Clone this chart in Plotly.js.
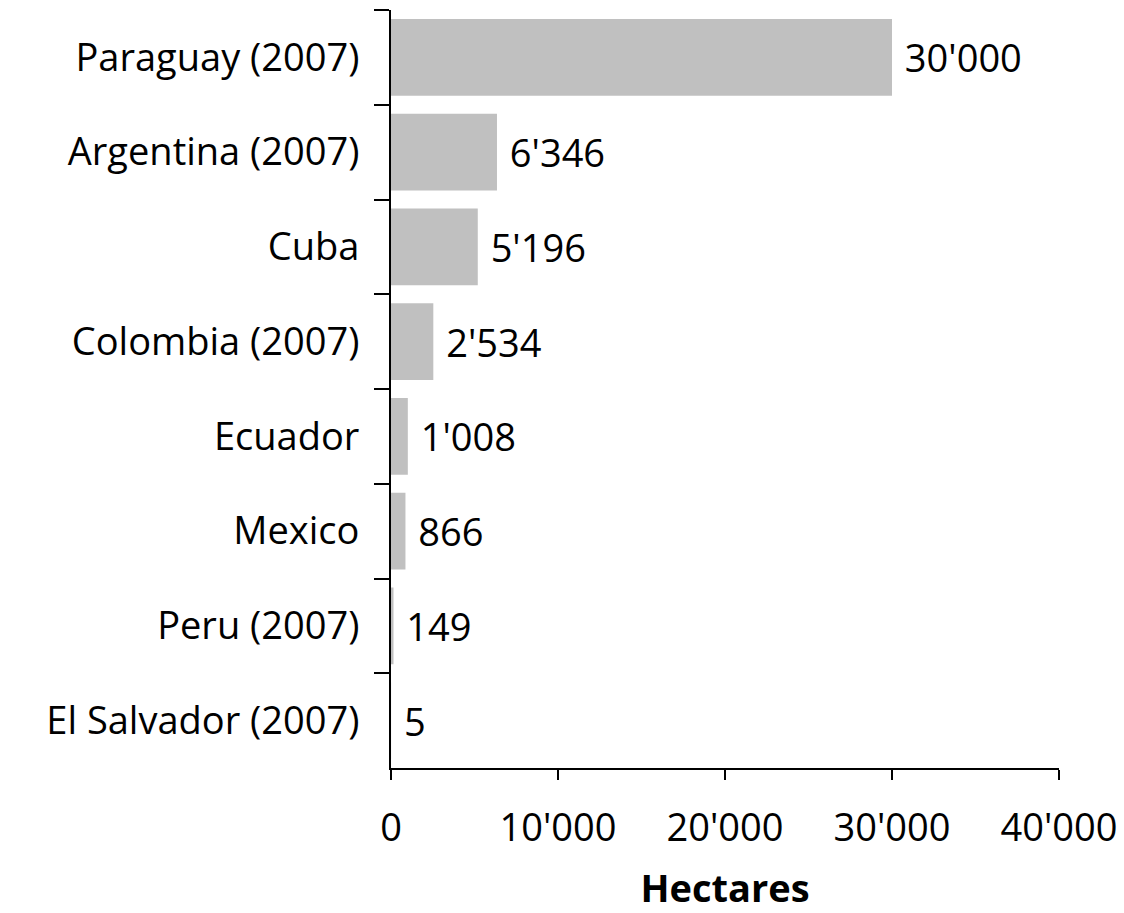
<!DOCTYPE html>
<html>
<head>
<meta charset="utf-8">
<script src="https://cdn.plot.ly/plotly-3.0.1.min.js"></script>
<style>html,body{margin:0;padding:0;background:#fff;}#chart{width:1124px;height:913px;}</style>
</head>
<body>
<div id="chart"></div>
<script>
const countries = ["Paraguay (2007)", "Argentina (2007)", "Cuba", "Colombia (2007)", "Ecuador", "Mexico", "Peru (2007)", "El Salvador (2007)"];
const hectares = [30000, 6346, 5196, 2534, 1008, 866, 149, 5];
const xTicks = [0, 10000, 20000, 30000, 40000];

const FONT = "Open Sans, Noto Sans, sans-serif";
const FS = 38;

const trace = {
  type: "bar",
  orientation: "h",
  y: countries,
  x: hectares,
  marker: { color: "#c0c0c0" },
  texttemplate: " %{x:,d}",
  textposition: "outside",
  cliponaxis: false,
  textfont: { family: FONT, size: FS, color: "#000" },
  hoverinfo: "none"
};

const layout = {
  width: 1124,
  height: 913,
  separators: ".'",
  margin: { l: 391, r: 65, t: 10, b: 145 },
  paper_bgcolor: "#fff",
  plot_bgcolor: "#fff",
  showlegend: false,
  bargap: 0.19,
  font: { family: FONT, size: FS, color: "#000" },
  xaxis: {
    range: [0, 40000],
    tickvals: xTicks,
    tickformat: ",d",
    showgrid: false,
    zeroline: false,
    showline: true,
    linecolor: "#000",
    linewidth: 2,
    ticks: "outside",
    ticklen: 10,
    tickwidth: 2,
    tickcolor: "#000",
    ticklabelstandoff: 15,
    tickfont: { family: FONT, size: FS, color: "#000" },
    title: { text: "<b>Hectares</b>", font: { family: FONT, size: FS, color: "#000" }, standoff: 29 }
  },
  yaxis: {
    type: "category",
    autorange: "reversed",
    showgrid: false,
    zeroline: false,
    showline: true,
    linecolor: "#000",
    linewidth: 2,
    ticks: "outside",
    tickson: "boundaries",
    ticklen: 15,
    tickwidth: 2,
    tickcolor: "#000",
    ticklabelstandoff: 22,
    tickfont: { family: FONT, size: FS, color: "#000" }
  }
};

Plotly.newPlot("chart", [trace], layout, { displayModeBar: false, staticPlot: true });
</script>
</body>
</html>
